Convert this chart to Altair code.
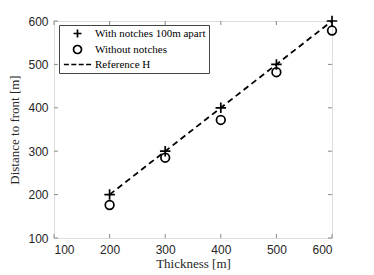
import altair as alt
import pandas as pd

thickness = [200, 300, 400, 500, 600]
with_notches = [200, 300, 400, 500, 600]
without_notches = [176, 285, 372, 482, 578]
reference_h = [200, 300, 400, 500, 600]
series_names = ["With notches 100m apart", "Without notches", "Reference H"]
x_ticks = [100, 200, 300, 400, 500, 600]
y_ticks = [100, 200, 300, 400, 500, 600]

W, H = 278, 217
GREY = "#8a8a8a"

pts = pd.DataFrame({
    "t": thickness + thickness,
    "d": with_notches + without_notches,
    "s": [series_names[0]] * 5 + [series_names[1]] * 5,
})
ref = pd.DataFrame({"t": thickness, "d": reference_h})
xt = pd.DataFrame({"v": x_ticks})
yt = pd.DataFrame({"v": y_ticks})

xs = alt.Scale(domain=[100, 600], nice=False, zero=False)
ys = alt.Scale(domain=[100, 600], nice=False, zero=False)

xaxis = alt.Axis(values=x_ticks, title="Thickness [m]", ticks=False, domain=False, grid=False,
                 labelFont="Liberation Sans", labelFontSize=12, labelColor="#262626", labelPadding=6,
                 titleFont="Liberation Serif", titleFontSize=13, titleFontWeight="normal",
                 titleColor="#262626", titlePadding=2)
yaxis = alt.Axis(values=y_ticks, title="Distance to front [m]", ticks=False, domain=False, grid=False,
                 labelFont="Liberation Sans", labelFontSize=12, labelColor="#262626", labelPadding=6,
                 titleFont="Liberation Serif", titleFontSize=13, titleFontWeight="normal",
                 titleColor="#262626", titlePadding=6)

cross_path = "M-1,0L1,0M0,-1L0,1"
dash_path = "M-3.4,0L-2.15,0M-1.55,0L-0.3,0M0.3,0L1.55,0M2.15,0L3.4,0"

line = alt.Chart(ref).mark_line(color="black", strokeWidth=1.8, strokeDash=[6, 4]).encode(
    x=alt.X("t:Q", scale=xs, axis=xaxis),
    y=alt.Y("d:Q", scale=ys, axis=yaxis),
)

points = alt.Chart(pts).mark_point(filled=False, color="black", strokeWidth=1.7, opacity=1).encode(
    x=alt.X("t:Q", scale=xs),
    y=alt.Y("d:Q", scale=ys),
    shape=alt.Shape("s:N", scale=alt.Scale(domain=series_names, range=[cross_path, "circle", dash_path]),
                    legend=alt.Legend(title=None, orient="none", legendX=5, legendY=4,
                                      labelFont="Liberation Serif", labelFontSize=11, labelColor="black",
                                      symbolSize=64, symbolStrokeColor="black", symbolFillColor="transparent",
                                      symbolStrokeWidth=1.7, symbolOffset=10, labelOffset=12,
                                      padding=3, rowPadding=1, strokeColor="#444", fillColor="white",
                                      labelLimit=300)),
    size=alt.Size("s:N", scale=alt.Scale(domain=series_names[:2], range=[110, 75]), legend=None),
)

rule_b = alt.Chart(xt).mark_rule(color=GREY).encode(x=alt.X("v:Q", scale=xs), y=alt.value(H), y2=alt.value(H - 4))
rule_t = alt.Chart(xt).mark_rule(color=GREY).encode(x=alt.X("v:Q", scale=xs), y=alt.value(0), y2=alt.value(4))
rule_l = alt.Chart(yt).mark_rule(color=GREY).encode(y=alt.Y("v:Q", scale=ys), x=alt.value(0), x2=alt.value(4))
rule_r = alt.Chart(yt).mark_rule(color=GREY).encode(y=alt.Y("v:Q", scale=ys), x=alt.value(W), x2=alt.value(W - 4))

chart = alt.layer(rule_b, rule_t, rule_l, rule_r, line, points).properties(
    width=W, height=H,
    autosize=alt.AutoSizeParams(type="none"),
    padding={"left": 46, "top": 13, "right": 20, "bottom": 36},
).configure_view(stroke=GREY, strokeWidth=1).configure(background="white")

chart.save("out.html", embed_options={"renderer": "svg", "actions": False})
